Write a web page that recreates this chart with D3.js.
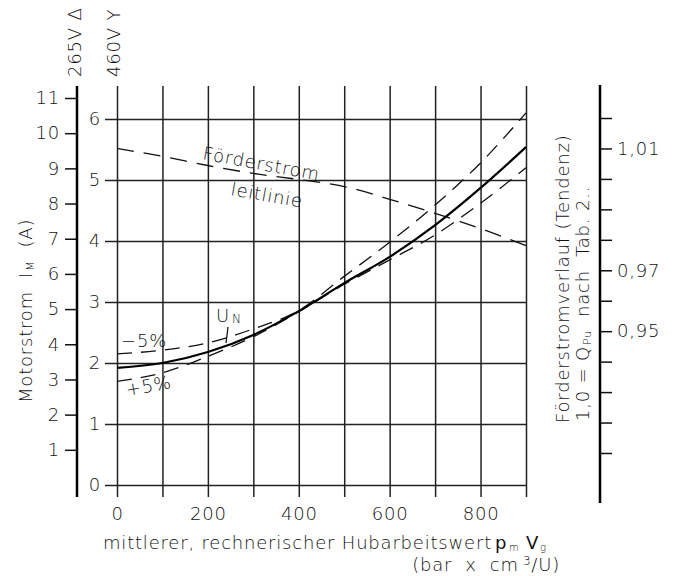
<!DOCTYPE html>
<html>
<head>
<meta charset="utf-8">
<script src="https://cdn.jsdelivr.net/npm/d3@7"></script>
<style>
  body { margin: 0; background: #fff; }
  svg text { font-family: "DejaVu Sans", sans-serif; font-weight: 200; fill: #111; letter-spacing: 0.8px; }
</style>
</head>
<body>
<div id="chart"></div>
<script>
// chart values
const LOAD = [0, 100, 200, 300, 400, 500, 600, 700, 800, 900];          // bar x cm3/U
const CURRENT_UN = [1.92, 2.00, 2.18, 2.46, 2.85, 3.31, 3.74, 4.26, 4.87, 5.54];   // A at 460V
const CURRENT_MINUS5 = [2.15, 2.21, 2.33, 2.56, 2.86, 3.42, 3.98, 4.59, 5.28, 6.10];
const CURRENT_PLUS5 = [1.70, 1.84, 2.11, 2.43, 2.84, 3.29, 3.69, 4.10, 4.62, 5.20];
const FLOW_TREND = [1.010, 1.0074, 1.0044, 1.0018, 0.9998, 0.9975, 0.9933, 0.9887, 0.9837, 0.9781];

const X_TICKS = [0, 200, 400, 600, 800];
const INNER_TICKS = [0, 1, 2, 3, 4, 5, 6];              // 460V Y
const OUTER_TICKS = [1, 2, 3, 4, 5, 6, 7, 8, 9, 10, 11]; // 265V delta
const RIGHT_TICKS = [0.91, 0.92, 0.93, 0.94, 0.95, 0.96, 0.97, 0.98, 0.99, 1.00, 1.01, 1.02];
const RIGHT_LABELS = [1.01, 0.97, 0.95];

const FRAME_WIDTH = 673;
const FRAME_HEIGHT = 576;

const GRID = {left: 117, right: 526, top: 86, bottom: 497};
const NB = "\u00a0"; // spaces that do not collapse

const SVG = d3.select("#chart")
  .append("svg")
    .attr("width", FRAME_WIDTH)
    .attr("height", FRAME_HEIGHT);

// scales
const X_SCALE = d3.scaleLinear().domain([0, 900]).range([GRID.left, GRID.right]);
const Y_INNER = d3.scaleLinear().domain([0, 6]).range([485, 119]);
const Y_OUTER = d3.scaleLinear().domain([0, 11]).range([485, 98]);
const Y_RIGHT = d3.scaleLinear().domain([0.91, 1.02]).range([453, 118]);

const FS = 18;

// vertical grid lines + x labels
const xAxis = SVG.append("g")
  .attr("transform", "translate(0," + GRID.bottom + ")")
  .call(d3.axisBottom(X_SCALE)
    .tickValues(d3.range(0, 901, 100))
    .tickSizeInner(-(GRID.bottom - GRID.top))
    .tickSizeOuter(0)
    .tickPadding(10)
    .tickFormat(d => X_TICKS.includes(d) ? d : ""));
xAxis.select(".domain").remove();
xAxis.selectAll("line").attr("stroke", "#222").attr("stroke-width", 1.5);
xAxis.selectAll("text").attr("font-size", FS).attr("fill", "#111");

// horizontal grid lines + inner (460V) labels
const innerAxis = SVG.append("g")
  .attr("transform", "translate(105,0)")
  .call(d3.axisLeft(Y_INNER)
    .tickValues(INNER_TICKS)
    .tickSizeInner(-(GRID.right + 1 - 105))
    .tickSizeOuter(0)
    .tickPadding(4)
    .tickFormat(d3.format("d")));
innerAxis.select(".domain").remove();
innerAxis.selectAll("line").attr("stroke", "#222").attr("stroke-width", 1.5);
innerAxis.selectAll("text").attr("font-size", FS).attr("fill", "#111");

// outer (265V) axis
const outerAxis = SVG.append("g")
  .attr("transform", "translate(77,0)")
  .call(d3.axisLeft(Y_OUTER)
    .tickValues(OUTER_TICKS)
    .tickSizeInner(12)
    .tickSizeOuter(0)
    .tickPadding(5));
outerAxis.select(".domain").remove();
outerAxis.selectAll("line").attr("stroke", "#111").attr("stroke-width", 1.5);
outerAxis.selectAll("text").attr("font-size", FS).attr("fill", "#111");
SVG.append("line")
  .attr("x1", 77).attr("x2", 77).attr("y1", GRID.top).attr("y2", GRID.bottom)
  .attr("stroke", "#000").attr("stroke-width", 2.5);

// right axis (Foerderstrom)
const rightAxis = SVG.append("g")
  .attr("transform", "translate(600,0)")
  .call(d3.axisRight(Y_RIGHT)
    .tickValues(RIGHT_TICKS)
    .tickSizeInner(12)
    .tickSizeOuter(0)
    .tickPadding(5)
    .tickFormat(d => RIGHT_LABELS.some(v => Math.abs(v - d) < 1e-9) ? d3.format(".2f")(d).replace(".", ",") : ""));
rightAxis.select(".domain").remove();
rightAxis.selectAll("line").attr("stroke", "#111").attr("stroke-width", 1.5);
rightAxis.selectAll("text").attr("font-size", FS).attr("fill", "#111");
SVG.append("line")
  .attr("x1", 600).attr("x2", 600).attr("y1", 85).attr("y2", 503)
  .attr("stroke", "#000").attr("stroke-width", 2.5);

// curves
const currentLine = d3.line()
  .x((d, i) => X_SCALE(LOAD[i]))
  .y(d => Y_INNER(d))
  .curve(d3.curveMonotoneX);

SVG.append("path").datum(CURRENT_MINUS5)
  .attr("d", currentLine)
  .attr("fill", "none").attr("stroke", "#111").attr("stroke-width", 1.3)
  .attr("stroke-dasharray", "15,9");
SVG.append("path").datum(CURRENT_PLUS5)
  .attr("d", currentLine)
  .attr("fill", "none").attr("stroke", "#111").attr("stroke-width", 1.3)
  .attr("stroke-dasharray", "15,9");
SVG.append("path").datum(CURRENT_UN)
  .attr("d", currentLine)
  .attr("fill", "none").attr("stroke", "#000").attr("stroke-width", 2.2);

const flowLine = d3.line()
  .x((d, i) => X_SCALE(LOAD[i]))
  .y(d => Y_RIGHT(d))
  .curve(d3.curveMonotoneX);
SVG.append("path").datum(FLOW_TREND)
  .attr("d", flowLine)
  .attr("fill", "none").attr("stroke", "#111").attr("stroke-width", 1.3)
  .attr("stroke-dasharray", "17,10");

// annotations
SVG.append("text")
  .attr("transform", "translate(202,159) rotate(10.5)")
  .attr("font-size", FS)
  .text("Förderstrom");
SVG.append("text")
  .attr("transform", "translate(230,195) rotate(10)")
  .attr("font-size", FS)
  .text("leitlinie");

const un = SVG.append("text").attr("x", 216).attr("y", 322).attr("font-size", 18);
un.append("tspan").text("U");
un.append("tspan").attr("font-size", 12).attr("dy", 1).attr("dx", 2).text("N");
SVG.append("line")
  .attr("x1", 228).attr("y1", 327).attr("x2", 226).attr("y2", 343)
  .attr("stroke", "#111").attr("stroke-width", 1.3);

SVG.append("text").attr("x", 121).attr("y", 347).attr("font-size", 18).text("−5%");
SVG.append("text")
  .attr("transform", "translate(127,396) rotate(-10)")
  .attr("font-size", 18).text("+5%");

// axis titles
SVG.append("text")
  .attr("transform", "translate(81,77) rotate(-90)")
  .attr("font-size", FS).text("265V Δ");
SVG.append("text")
  .attr("transform", "translate(120,77) rotate(-90)")
  .attr("font-size", FS).text("460V Y");

const leftTitle = SVG.append("text")
  .attr("transform", "translate(32,403) rotate(-90)")
  .attr("font-size", FS);
leftTitle.append("tspan").text("Motorstrom" + NB + NB + "I");
leftTitle.append("tspan").attr("font-size", 11).attr("dy", 2).attr("dx", 1).text("M");
leftTitle.append("tspan").attr("dy", -2).text(NB + NB + "(A)");

SVG.append("text")
  .attr("transform", "translate(569,423) rotate(-90)")
  .attr("font-size", FS).text("Förderstromverlauf (Tendenz)");
const rightTitle = SVG.append("text")
  .attr("transform", "translate(589,421) rotate(-90)")
  .attr("font-size", FS);
rightTitle.append("tspan").text("1,0 = Q");
rightTitle.append("tspan").attr("font-size", 11).attr("dy", 2).attr("dx", 1).text("Pu");
rightTitle.append("tspan").attr("dy", -2).text(NB + NB + "nach" + NB + NB + "Tab. 2..");

// x title: main words, then the symbol group p_m V_g
SVG.append("text").attr("x", 103).attr("y", 549).attr("font-size", FS)
  .text("mittlerer, rechnerischer Hubarbeitswert");
const sym = [
  {t: "p", x: 495, dy: 0, size: FS},
  {t: "m", x: 509, dy: 2, size: 10},
  {t: "V", x: 526, dy: 0, size: FS},
  {t: "g", x: 540, dy: 2, size: 10}
];
SVG.selectAll(".sym").data(sym).join("text")
  .attr("class", "sym")
  .attr("x", d => d.x)
  .attr("y", d => 549 + d.dy)
  .attr("font-size", d => d.size)
  .style("font-weight", d => d.size === FS ? 400 : 200)
  .style("letter-spacing", "0px")
  .text(d => d.t);

const unitTitle = SVG.append("text").attr("x", 560).attr("y", 571)
  .attr("text-anchor", "end").attr("font-size", FS);
unitTitle.append("tspan").text("(bar" + NB + NB + "x" + NB + NB + "cm");
unitTitle.append("tspan").attr("font-size", 12).attr("dy", -6).attr("dx", 4).text("3");
unitTitle.append("tspan").attr("dy", 6).text("/U)");
</script>
</body>
</html>
